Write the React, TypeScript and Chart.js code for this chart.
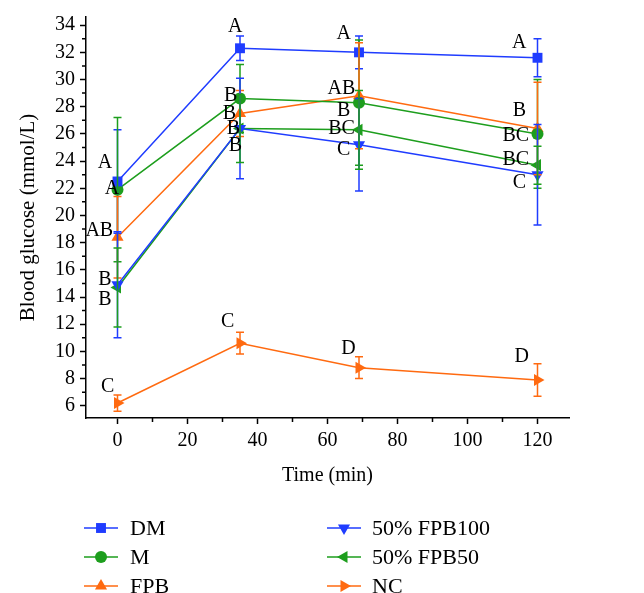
import React, { useEffect, useRef } from "react";
import { Chart, registerables } from "chart.js";
import { drawPoint } from "chart.js/helpers";

Chart.register(...registerables);

// ---------- data ----------
const timePoints = [0, 35, 69, 120];
const xTickValues = [0, 20, 40, 60, 80, 100, 120];
const yTickValues = [6, 8, 10, 12, 14, 16, 18, 20, 22, 24, 26, 28, 30, 32, 34];

const seriesNames = ["DM", "M", "FPB", "50% FPB100", "50% FPB50", "NC"];
const dmValues = [22.5, 32.3, 32.0, 31.6];
const dmErrors = [3.8, 0.9, 1.2, 1.4];
const mValues = [21.9, 28.6, 28.3, 26.0];
const mErrors = [5.3, 2.5, 4.6, 4.0];
const fpbValues = [18.4, 27.5, 28.8, 26.4];
const fpbErrors = [3.0, 1.7, 3.9, 3.4];
const fpb100Values = [14.9, 26.4, 25.2, 23.0];
const fpb100Errors = [3.9, 3.7, 3.4, 3.7];
const fpb50Values = [14.7, 26.4, 26.3, 23.7];
const fpb50Errors = [2.9, 2.5, 2.9, 1.4];
const ncValues = [6.2, 10.6, 8.8, 7.9];
const ncErrors = [0.6, 0.8, 0.8, 1.2];

// significance letters (text, x in minutes, y in mmol/L)
const letterTexts = [
  "A", "A", "AB", "B", "B", "C",
  "A", "B", "B", "B", "B", "C",
  "A", "AB", "B", "BC", "C", "D",
  "A", "B", "BC", "BC", "C", "D",
];
const letterX = [
  -3.6, -1.6, -5.2, -3.6, -3.6, -2.8,
  33.6, 32.3, 32.0, 33.1, 33.7, 31.5,
  64.6, 64.0, 64.6, 64.0, 64.6, 66.0,
  114.8, 114.8, 113.8, 113.8, 114.8, 115.5,
];
const letterY = [
  23.9, 22.0, 18.9, 15.3, 13.8, 7.4,
  33.9, 28.8, 27.5, 26.4, 25.1, 12.2,
  33.4, 29.3, 27.7, 26.4, 24.8, 10.2,
  32.7, 27.7, 25.9, 24.1, 22.4, 9.6,
];

// ---------- styles ----------
const BLUE = "#1f3cff";
const GREEN = "#1d9e1d";
const ORANGE = "#ff6a10";
const FONT = "'Liberation Serif', 'DejaVu Serif', serif";

const seriesValues = [dmValues, mValues, fpbValues, fpb100Values, fpb50Values, ncValues];
const seriesErrors = [dmErrors, mErrors, fpbErrors, fpb100Errors, fpb50Errors, ncErrors];
const seriesColors = [BLUE, GREEN, ORANGE, BLUE, GREEN, ORANGE];
const seriesStyles = ["rect", "circle", "triangle", "triangle", "triangle", "triangle"];
const seriesRot = [0, 0, 0, 180, -90, 90];
const seriesRadius = [7, 6, 7, 7, 7, 7];

const X_MIN = -9;
const X_MAX = 129;
const Y_MIN = 5.1;
const Y_MAX = 34.6;

const errorBarPlugin = {
  id: "errorBars",
  afterDatasetsDraw(chart: any) {
    const { ctx, scales } = chart;
    const xs = scales.x;
    const ys = scales.y;
    ctx.save();
    ctx.lineWidth = 1.5;
    seriesValues.forEach((vals, si) => {
      ctx.strokeStyle = seriesColors[si];
      vals.forEach((v, i) => {
        const px = xs.getPixelForValue(timePoints[i]);
        const top = ys.getPixelForValue(v + seriesErrors[si][i]);
        const bot = ys.getPixelForValue(v - seriesErrors[si][i]);
        ctx.beginPath();
        ctx.moveTo(px, top);
        ctx.lineTo(px, bot);
        ctx.moveTo(px - 4, top);
        ctx.lineTo(px + 4, top);
        ctx.moveTo(px - 4, bot);
        ctx.lineTo(px + 4, bot);
        ctx.stroke();
      });
    });
    ctx.restore();
  },
};

const decorPlugin = {
  id: "decor",
  afterDraw(chart: any) {
    const { ctx, scales, chartArea } = chart;
    const xs = scales.x;
    const ys = scales.y;
    ctx.save();
    // minor ticks
    ctx.strokeStyle = "#000";
    ctx.lineWidth = 1.5;
    ctx.beginPath();
    for (let v = -10; v <= 130; v += 20) {
      if (v < X_MIN || v > X_MAX) continue;
      const px = xs.getPixelForValue(v);
      ctx.moveTo(px, chartArea.bottom);
      ctx.lineTo(px, chartArea.bottom + 4);
    }
    for (let v = 5; v <= 35; v += 2) {
      if (v < Y_MIN || v > Y_MAX) continue;
      const py = ys.getPixelForValue(v);
      ctx.moveTo(chartArea.left, py);
      ctx.lineTo(chartArea.left - 4, py);
    }
    ctx.stroke();

    // letters
    ctx.fillStyle = "#000";
    ctx.font = `20px ${FONT}`;
    ctx.textAlign = "center";
    ctx.textBaseline = "middle";
    letterTexts.forEach((t, i) => {
      ctx.fillText(t, xs.getPixelForValue(letterX[i]), ys.getPixelForValue(letterY[i]));
    });

    // axis titles
    ctx.font = `20px ${FONT}`;
    ctx.fillText("Time (min)", (chartArea.left + chartArea.right) / 2, 476);
    ctx.font = `21px ${FONT}`;
    ctx.save();
    ctx.translate(28, (chartArea.top + chartArea.bottom) / 2);
    ctx.rotate(-Math.PI / 2);
    ctx.fillText("Blood glucose (mmol/L)", 0, 0);
    ctx.restore();

    // legend
    const rows = [528, 557, 586];
    const cols = [
      { x0: 84, x1: 118, mx: 101, tx: 130 },
      { x0: 327, x1: 361, mx: 344, tx: 372 },
    ];
    ctx.font = `22px ${FONT}`;
    ctx.textAlign = "left";
    seriesNames.forEach((name, si) => {
      const col = cols[Math.floor(si / 3)];
      const y = rows[si % 3];
      ctx.strokeStyle = seriesColors[si];
      ctx.lineWidth = 1.5;
      ctx.beginPath();
      ctx.moveTo(col.x0, y);
      ctx.lineTo(col.x1, y);
      ctx.stroke();
      ctx.fillStyle = seriesColors[si];
      drawPoint(
        ctx,
        {
          pointStyle: seriesStyles[si],
          rotation: seriesRot[si],
          radius: seriesRadius[si],
          borderWidth: 0,
        } as any,
        col.mx,
        y
      );
      ctx.fillStyle = "#000";
      ctx.fillText(name, col.tx, y + 1);
    });
    ctx.restore();
  },
};

export default function App() {
  const canvasRef = useRef<HTMLCanvasElement | null>(null);

  useEffect(() => {
    document.body.style.margin = "0";
    const canvas = canvasRef.current;
    if (!canvas) return;
    const chart = new Chart(canvas, {
      type: "line",
      data: {
        datasets: seriesNames.map((name, si) => ({
          label: name,
          data: seriesValues[si].map((v, i) => ({ x: timePoints[i], y: v })),
          borderColor: seriesColors[si],
          backgroundColor: seriesColors[si],
          borderWidth: 1.5,
          pointStyle: seriesStyles[si] as any,
          pointRotation: seriesRot[si],
          pointRadius: seriesRadius[si],
          pointBorderWidth: 0,
          pointBackgroundColor: seriesColors[si],
          tension: 0,
        })),
      },
      options: {
        animation: false,
        responsive: false,
        layout: { padding: { top: 12, right: 75, left: 0, bottom: 95 } },
        plugins: {
          legend: { display: false },
          tooltip: { enabled: false },
        },
        scales: {
          x: {
            type: "linear",
            min: X_MIN,
            max: X_MAX,
            afterBuildTicks: (s: any) => {
              s.ticks = xTickValues.map((v) => ({ value: v }));
            },
            afterFit: (s: any) => {
              s.height = 80;
            },
            grid: {
              display: true,
              drawOnChartArea: false,
              drawTicks: true,
              tickLength: 6,
              tickColor: "#000",
              tickWidth: 1.5,
            },
            border: { display: true, color: "#000", width: 1.5 },
            ticks: {
              color: "#000",
              font: { family: FONT, size: 20 },
              padding: 5,
              maxRotation: 0,
              autoSkip: false,
            },
          },
          y: {
            type: "linear",
            min: Y_MIN,
            max: Y_MAX,
            afterBuildTicks: (s: any) => {
              s.ticks = yTickValues.map((v) => ({ value: v }));
            },
            afterFit: (s: any) => {
              s.width = 86;
            },
            grid: {
              display: true,
              drawOnChartArea: false,
              drawTicks: true,
              tickLength: 6,
              tickColor: "#000",
              tickWidth: 1.5,
            },
            border: { display: true, color: "#000", width: 1.5 },
            ticks: {
              color: "#000",
              font: { family: FONT, size: 20 },
              padding: 5,
              autoSkip: false,
            },
          },
        },
      },
      plugins: [errorBarPlugin, decorPlugin],
    });
    return () => chart.destroy();
  }, []);

  return (
    <div style={{ position: "absolute", left: 0, top: 0, width: 644, height: 593, background: "#fff" }}>
      <canvas ref={canvasRef} width={644} height={593} style={{ width: 644, height: 593, display: "block" }} />
    </div>
  );
}
